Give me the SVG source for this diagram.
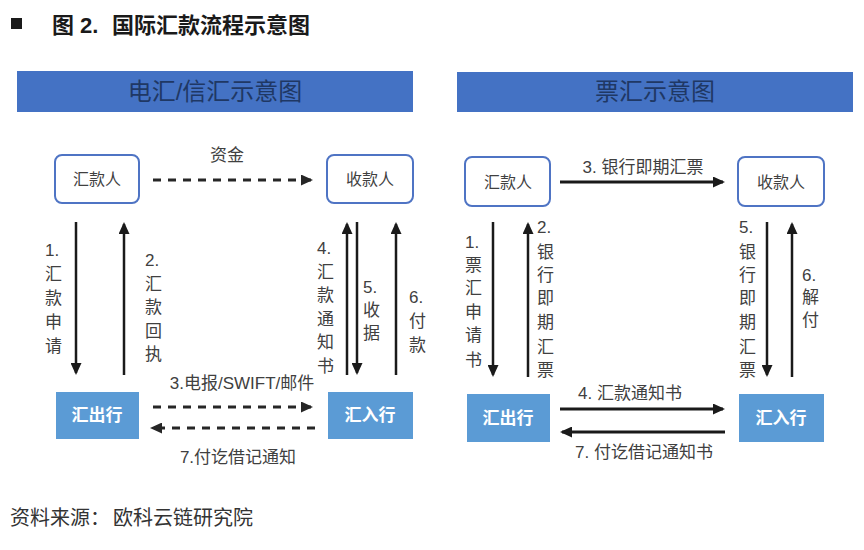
<svg xmlns="http://www.w3.org/2000/svg" width="864" height="550" viewBox="0 0 864 550">
<defs>
<marker id="ah" markerUnits="userSpaceOnUse" markerWidth="12" markerHeight="11" refX="10" refY="5.5" orient="auto">
<path d="M0,0 L12,5.5 L0,11 z" fill="#1a1a1a"/>
</marker>
<marker id="ahd" markerUnits="userSpaceOnUse" markerWidth="12" markerHeight="11" refX="10" refY="5.5" orient="auto">
<path d="M0,0 L12,5.5 L0,11 z" fill="#262626"/>
</marker>
</defs>
<style>
text{font-family:"Liberation Sans","Noto Sans CJK SC",sans-serif;}
.title{font-size:22px;font-weight:bold;fill:#1a1a1a;}
.banner{fill:#4472C4;}
.btext{font-size:24px;fill:#1F3864;text-anchor:middle;}
.person{fill:#fff;stroke:#4F74C4;stroke-width:2;}
.ptext{font-size:16px;fill:#404040;text-anchor:middle;}
.bank{fill:#5B9BD5;}
.bktext{font-size:17px;font-weight:bold;fill:#fff;text-anchor:middle;}
.lbl{font-size:17px;fill:#404040;}
.mid{text-anchor:middle;}
.solid{stroke:#1a1a1a;stroke-width:2.5;fill:none;marker-end:url(#ah);}
.hsolid{stroke:#1a1a1a;stroke-width:3;fill:none;marker-end:url(#ah);}
.dash{stroke:#262626;stroke-width:3;fill:none;stroke-dasharray:8 7;marker-end:url(#ahd);}
.foot{font-size:20px;fill:#333;}
</style>
<rect width="864" height="550" fill="#fff"/>
<rect x="11" y="18" width="11" height="11" fill="#1a1a1a"/>
<text class="title" y="33"><tspan x="52">图</tspan><tspan x="80">2.</tspan><tspan x="112">国际汇款流程示意图</tspan></text>

<g id="banner-left"><rect class="banner" x="17" y="71" width="396" height="41"/><text class="btext" x="215" y="100">电汇/信汇示意图</text></g>
<g id="banner-right"><rect class="banner" x="457" y="72" width="396" height="40"/><text class="btext" x="655" y="100">票汇示意图</text></g>

<g id="L-remitter"><rect class="person" x="55" y="155" width="84" height="48" rx="7"/><text class="ptext" x="97" y="185">汇款人</text></g>
<g id="L-payee"><rect class="person" x="327" y="155" width="86" height="48" rx="7"/><text class="ptext" x="370" y="185">收款人</text></g>
<g id="L-outbank"><rect class="bank" x="56" y="392" width="83" height="47"/><text class="bktext" x="97" y="421">汇出行</text></g>
<g id="L-inbank"><rect class="bank" x="328" y="392" width="85" height="47"/><text class="bktext" x="370" y="421">汇入行</text></g>

<g id="R-remitter"><rect class="person" x="465" y="157" width="85" height="49" rx="7"/><text class="ptext" x="508" y="188">汇款人</text></g>
<g id="R-payee"><rect class="person" x="738" y="157" width="86" height="49" rx="7"/><text class="ptext" x="781" y="188">收款人</text></g>
<g id="R-outbank"><rect class="bank" x="467" y="394" width="83" height="48"/><text class="bktext" x="508" y="424">汇出行</text></g>
<g id="R-inbank"><rect class="bank" x="739" y="394" width="85" height="48"/><text class="bktext" x="781" y="424">汇入行</text></g>

<g id="connectors">
<path class="dash" d="M153,180 H311"/>
<path class="solid" d="M76,222 V373"/>
<path class="solid" d="M124,375 V224"/>
<path class="solid" d="M347,375 V224"/>
<path class="solid" d="M357,222 V373"/>
<path class="solid" d="M396,375 V224"/>
<path class="dash" d="M153,407 H311"/>
<path class="dash" d="M315,428 H152"/>

<path class="hsolid" d="M560,182 H723"/>
<path class="solid" d="M493,222 V375"/>
<path class="solid" d="M528,377 V224"/>
<path class="solid" d="M767,222 V375"/>
<path class="solid" d="M792,377 V224"/>
<path class="hsolid" d="M560,409 H723"/>
<path class="hsolid" d="M725,432 H562"/>
</g>

<g id="labels">
<text class="lbl mid" x="227" y="161">资金</text>
<g class="lbl"><text x="45" y="256">1.</text><text x="45" y="280">汇</text><text x="45" y="304">款</text><text x="45" y="328">申</text><text x="45" y="352">请</text></g>
<g class="lbl"><text x="145" y="266">2.</text><text x="145" y="290">汇</text><text x="145" y="313">款</text><text x="145" y="337">回</text><text x="145" y="360">执</text></g>
<g class="lbl"><text x="317" y="254">4.</text><text x="317" y="278">汇</text><text x="317" y="301">款</text><text x="317" y="325">通</text><text x="317" y="348">知</text><text x="317" y="372">书</text></g>
<g class="lbl"><text x="363" y="293">5.</text><text x="363" y="316">收</text><text x="363" y="339">据</text></g>
<g class="lbl"><text x="409" y="303">6.</text><text x="409" y="327">付</text><text x="409" y="351">款</text></g>
<text class="lbl mid" x="242" y="389">3.电报/SWIFT/邮件</text>
<text class="lbl mid" x="238" y="463">7.付讫借记通知</text>

<text class="lbl mid" x="643" y="173">3. 银行即期汇票</text>
<g class="lbl"><text x="465" y="248">1.</text><text x="465" y="271">票</text><text x="465" y="294">汇</text><text x="465" y="318">申</text><text x="465" y="341">请</text><text x="465" y="366">书</text></g>
<g class="lbl"><text x="537" y="233">2.</text><text x="537" y="258">银</text><text x="537" y="281">行</text><text x="537" y="304">即</text><text x="537" y="328">期</text><text x="537" y="353">汇</text><text x="537" y="376">票</text></g>
<g class="lbl"><text x="739" y="233">5.</text><text x="739" y="258">银</text><text x="739" y="281">行</text><text x="739" y="304">即</text><text x="739" y="328">期</text><text x="739" y="353">汇</text><text x="739" y="376">票</text></g>
<g class="lbl"><text x="802" y="281">6.</text><text x="802" y="303">解</text><text x="802" y="326">付</text></g>
<text class="lbl mid" x="630" y="399">4. 汇款通知书</text>
<text class="lbl mid" x="644" y="458">7. 付讫借记通知书</text>
</g>

<text class="foot" y="525"><tspan x="10">资料来源：</tspan><tspan x="113">欧科云链研究院</tspan></text>
</svg>
